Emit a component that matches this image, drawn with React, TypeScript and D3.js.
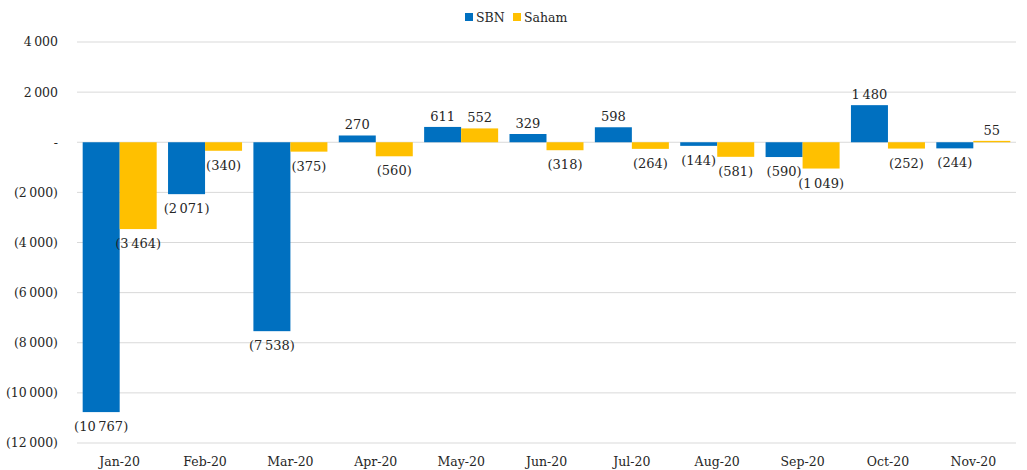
import React from "react";
import * as d3 from "d3";

const categories = ["Jan-20","Feb-20","Mar-20","Apr-20","May-20","Jun-20","Jul-20","Aug-20","Sep-20","Oct-20","Nov-20"];
const sbn = [-10767, -2071, -7538, 270, 611, 329, 598, -144, -590, 1480, -244];
const saham = [-3464, -340, -375, -560, 552, -318, -264, -581, -1049, -252, 55];
const yTicks = [4000, 2000, 0, -2000, -4000, -6000, -8000, -10000, -12000];
const seriesNames = ["SBN", "Saham"];
const colors = ["#0070C0", "#FFC000"];

const W = 1027, H = 470;
const left = 77, right = 1016, top = 42, bottom = 443;
const font = "'DejaVu Serif', serif";

const loc = d3.formatLocale({ decimal: ".", thousands: "\u2009", grouping: [3], currency: ["", ""] });
const f = loc.format(",d");
const fmt = (v: number) => (v === 0 ? "-" : v < 0 ? `(${f(-v)})` : f(v));

export default function App() {
  const x = d3.scaleBand().domain(categories).range([left, right]).paddingInner(0.133).paddingOuter(0.0665);
  const x1 = d3.scaleBand().domain(seriesNames).range([0, x.bandwidth()]);
  const y = d3.scaleLinear().domain([-12000, 4000]).range([bottom, top]);
  const series = [sbn, saham];
  return (
    <svg width={W} height={H} style={{ position: "absolute", left: 0, top: 0 }} fontFamily={font}>
      <rect width={W} height={H} fill="#fff" />
      {yTicks.map((t) => (
        <g key={t}>
          <line x1={left} x2={right} y1={y(t)} y2={y(t)} stroke="#d9d9d9" strokeWidth={1} />
          <text x={58} y={y(t)} dy="0.35em" textAnchor="end" fontSize={12.5} fill="#262626">{fmt(t)}</text>
        </g>
      ))}
      {series.map((vals, si) =>
        vals.map((v, i) => {
          const bx = (x(categories[i]) as number) + (x1(seriesNames[si]) as number);
          const bw = x1.bandwidth();
          const y0 = y(Math.max(0, v)), y1v = y(Math.min(0, v));
          const cx = bx + bw / 2;
          return (
            <g key={`${si}-${i}`}>
              <rect x={bx} y={y0} width={bw} height={Math.max(0.5, y1v - y0)} fill={colors[si]} />
              <text x={cx} y={v >= 0 ? y(v) - 6 : y(v) + 19} textAnchor="middle" fontSize={13} fill="#262626">{fmt(v)}</text>
            </g>
          );
        })
      )}
      {categories.map((c) => (
        <text key={c} x={(x(c) as number) + x.bandwidth() / 2} y={466} textAnchor="middle" fontSize={12.5} fill="#262626">{c}</text>
      ))}
      <g transform="translate(465,13)">
        <rect x={0} y={0} width={8} height={8} fill={colors[0]} />
        <text x={11} y={8.5} fontSize={12.5} fill="#262626">SBN</text>
        <rect x={48} y={0} width={8} height={8} fill={colors[1]} />
        <text x={59} y={8.5} fontSize={12.5} fill="#262626">Saham</text>
      </g>
    </svg>
  );
}
